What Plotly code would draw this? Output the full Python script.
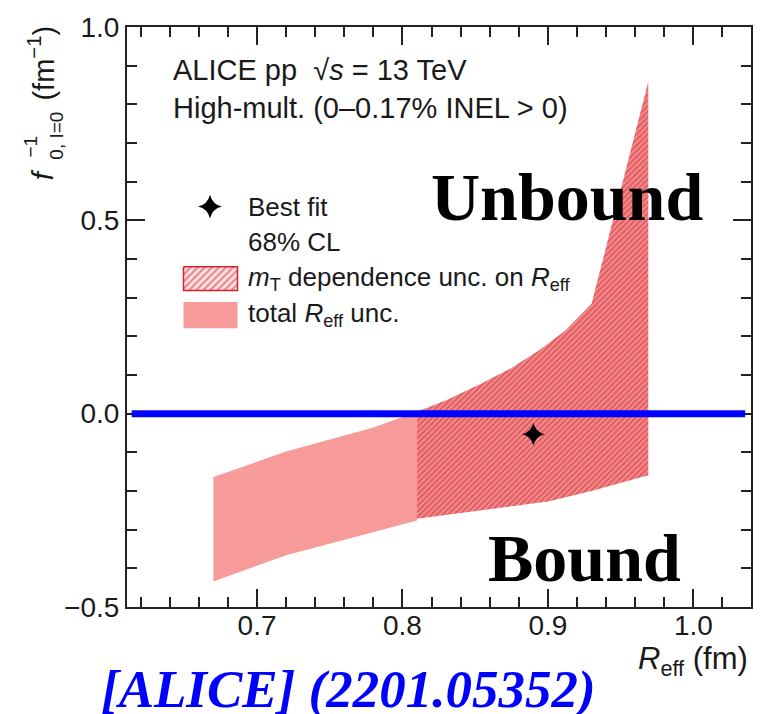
import plotly.graph_objects as go

# ---- data: 68% CL contours in the (R_eff, 1/f0) plane ----
# total R_eff uncertainty band (solid light region)
total_x_upper = [0.67, 0.72, 0.78, 0.81]
total_y_upper = [-0.164, -0.098, -0.036, 0.005]
total_x_lower = [0.67, 0.72, 0.81]
total_y_lower = [-0.434, -0.366, -0.276]

# m_T dependence uncertainty on R_eff (hatched region)
mt_x_upper = [0.81, 0.83, 0.855, 0.875, 0.894, 0.912, 0.93, 0.969]
mt_y_upper = [0.005, 0.035, 0.079, 0.118, 0.164, 0.215, 0.284, 0.859]
mt_x_lower = [0.81, 0.85, 0.90, 0.93, 0.969]
mt_y_lower = [-0.272, -0.252, -0.227, -0.200, -0.159]

# best fit point
best_fit_x = [0.89]
best_fit_y = [-0.053]

# axis ticks
x_ticks = [0.7, 0.8, 0.9, 1.0]
x_tick_text = ["0.7", "0.8", "0.9", "1.0"]
y_ticks = [-0.5, 0.0, 0.5, 1.0]
y_tick_text = ["\u22120.5", "0.0", "0.5", "1.0"]

# ---- styling / layout constants ----
W, H = 765, 714
ML, MR, MT, MB = 127, 14, 20, 107
PW, PH = W - ML - MR, H - MT - MB
X_RANGE = [0.6106, 1.0396]
Y_RANGE = [-0.5, 1.0]

PINK = "#f69a9a"
RED = "#d81f2c"
AXIS = "#222222"
SANS = "Liberation Sans, Arial, Helvetica, sans-serif"
SERIF = "Liberation Serif, Times New Roman, serif"


def px(x):
    return (x - ML) / PW


def py(y):
    return (H - MB - y) / PH


def closed(xu, yu, xl, yl):
    return list(xu) + list(reversed(xl)) + [xu[0]], list(yu) + list(reversed(yl)) + [yu[0]]


fig = go.Figure()

tx, ty = closed(total_x_upper, total_y_upper, total_x_lower, total_y_lower)
fig.add_trace(go.Scatter(x=tx, y=ty, mode="lines", fill="toself", fillcolor=PINK,
                         line=dict(width=0), hoverinfo="skip", showlegend=False))

mx, my = closed(mt_x_upper, mt_y_upper, mt_x_lower, mt_y_lower)
fig.add_trace(go.Scatter(x=mx, y=my, mode="lines", fill="toself", fillcolor=PINK,
                         fillpattern=dict(shape="/", bgcolor="#f09090", fgcolor=RED,
                                          size=4, solidity=0.5),
                         line=dict(width=0), hoverinfo="skip", showlegend=False))

fig.add_trace(go.Scatter(x=best_fit_x, y=best_fit_y, mode="markers",
                         marker=dict(symbol="star-diamond", size=16, color="black",
                                     line=dict(width=0)),
                         showlegend=False))

# ---- hand-drawn legend on a pixel-space overlay axis ----
leg_traces = [
    dict(x=[210], y=[201.7], mode="markers",
         marker=dict(symbol="star-diamond", size=17, color="black", line=dict(width=0))),
    dict(x=[183.5, 237.5, 237.5, 183.5, 183.5], y=[262.7, 262.7, 286.7, 286.7, 262.7],
         mode="lines", fill="toself", fillcolor="#fbe3e3",
         fillpattern=dict(shape="/", bgcolor="#fbe0e0", fgcolor=RED, size=5, solidity=0.4),
         line=dict(color=RED, width=1.5)),
    dict(x=[183.5, 237.5, 237.5, 183.5, 183.5], y=[298.3, 298.3, 325, 325, 298.3],
         mode="lines", fill="toself", fillcolor=PINK, line=dict(width=0)),
]
for t in leg_traces:
    fig.add_trace(go.Scatter(xaxis="x2", yaxis="y2", hoverinfo="skip", showlegend=False, **t))

# boundary between bound and unbound states
fig.add_shape(type="line", xref="x", yref="y", x0=0.6138, x1=1.0356, y0=0, y1=0,
              line=dict(color="#0000ff", width=7), layer="above")

axis_common = dict(showgrid=False, zeroline=False, showline=True, linewidth=2,
                   linecolor=AXIS, mirror="allticks", ticks="inside", ticklen=18,
                   tickwidth=2, tickcolor=AXIS,
                   tickfont=dict(family=SANS, size=28, color="#1a1a1a"))

fig.update_layout(
    width=W, height=H, margin=dict(l=ML, r=MR, t=MT, b=MB, pad=0),
    paper_bgcolor="white", plot_bgcolor="white", showlegend=False,
    xaxis=dict(range=X_RANGE, tickmode="array", tickvals=x_ticks, ticktext=x_tick_text,
               ticklabelstandoff=-8,
               minor=dict(tick0=0.6, dtick=0.02, ticks="inside", ticklen=10,
                          tickwidth=1.5, tickcolor=AXIS),
               **axis_common),
    yaxis=dict(range=Y_RANGE, tickmode="array", tickvals=y_ticks, ticktext=y_tick_text,
               minor=dict(tick0=0, dtick=0.1, ticks="inside", ticklen=10,
                          tickwidth=1.5, tickcolor=AXIS),
               **axis_common),
    xaxis2=dict(overlaying="x", range=[ML, W - MR], visible=False),
    yaxis2=dict(overlaying="y", range=[H - MB, MT], visible=False),
)

ann = []


def text(x, y, s, size, family=SANS, color="#1a1a1a", xanchor="left", angle=0):
    ann.append(dict(x=px(x), y=py(y), xref="paper", yref="paper", text=s, showarrow=False,
                    xanchor=xanchor, yanchor="middle", textangle=angle,
                    font=dict(family=family, size=size, color=color)))


# header
text(171, 64, "ALICE pp  \u221a<i>s</i> = 13 TeV", 29)
text(171, 102, "High-mult. (0\u20130.17% INEL > 0)", 29)

# legend labels
text(246, 202, "Best fit", 26)
text(246, 238, "68% CL", 26)
text(246, 275, "<i>m</i><sub>T</sub> dependence unc. on <i>R</i><sub>eff</sub>", 26)
text(246, 311, "total <i>R</i><sub>eff</sub> unc.", 26)

# region labels
text(429, 192, "<b>Unbound</b>", 68, family=SERIF, color="black")
text(486, 557, "<b>Bound</b>", 68, family=SERIF, color="black")

# x-axis title
text(750, 662, "<i>R</i><sub>eff</sub> (fm)", 31, xanchor="right")

# y-axis title, assembled so sub- and superscript stack
text(43, 170, "<i>f</i>", 29, xanchor="center", angle=-90)
text(31, 141, "\u22121", 19, xanchor="center", angle=-90)
text(57, 130, "0, I=0", 19, xanchor="center", angle=-90)
text(41, 57, "(fm<sup>\u22121</sup>)", 29, xanchor="center", angle=-90)

# citation
text(99, 691, "<b><i>[ALICE] (2201.05352)</i></b>", 53, family=SERIF, color="#0000ff")

fig.update_layout(annotations=ann)

fig.write_html("out.html")
